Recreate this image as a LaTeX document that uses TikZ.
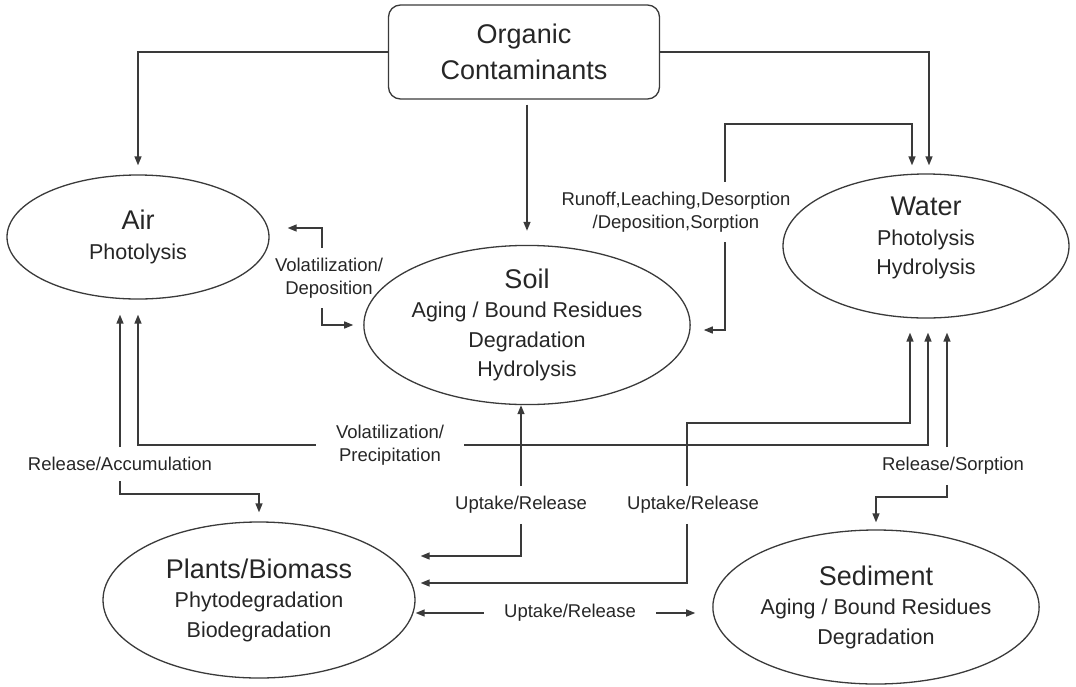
\documentclass[tikz,border=0pt]{standalone}
\usepackage{fontspec}
\setmainfont{Liberation Sans}
\usetikzlibrary{shapes,arrows.meta,positioning,calc}
\definecolor{linegray}{HTML}{3A3A3A}
\definecolor{textgray}{HTML}{262626}
\tikzset{
    compart/.style={
        ellipse,                  % each environmental compartment
        draw=linegray,
        line width=1.3pt,
        align=center,
        inner sep=0pt,
        text=textgray,
        font=\fontsize{21.5}{29.5}\selectfont
    },
    source/.style={
        rectangle,
        rounded corners=12pt,
        draw=linegray,
        line width=1.3pt,
        align=center,
        minimum width=271pt,
        minimum height=94pt,
        text=textgray,
        font=\fontsize{27}{36}\selectfont
    },
    flowlabel/.style={
        align=center,
        inner ysep=10pt,
        inner xsep=20pt,
        text=textgray,
        font=\fontsize{18.5}{22.5}\selectfont
    },
    flow/.style={
        draw=linegray,
        line width=1.4pt,
        -{Triangle[length=9pt,width=7pt]}
    }
}
\newcommand{\ctitle}[1]{{\fontsize{27}{31}\selectfont #1}}

\begin{document}
\begin{tikzpicture}[x=1pt,y=-1pt]
\useasboundingbox (0,0) rectangle (1076,686);
% compartments
\node[source] (organic) at (524,52) {Organic\\Contaminants};
\node[compart, minimum width=262pt, minimum height=124pt] (air) at (138,237) {\ctitle{Air}\\Photolysis};
\node[compart, minimum width=263pt, minimum height=156pt] (soil) at (527,325) {\ctitle{Soil}\\Aging / Bound Residues\\Degradation\\Hydrolysis};
\node[compart, minimum width=286pt, minimum height=144pt] (water) at (926,246) {\ctitle{Water}\\Photolysis\\Hydrolysis\\[-9.5pt]\mbox{}};
\node[compart, minimum width=312pt, minimum height=156pt] (plants) at (259,600) {\ctitle{Plants/Biomass}\\Phytodegradation\\Biodegradation};
\node[compart, minimum width=308pt, minimum height=154pt] (sediment) at (876,607) {\ctitle{Sediment}\\Aging / Bound Residues\\Degradation};

% process labels
\node[flowlabel] (voldep) at (329,278) {Volatilization/\\Deposition};
\node[flowlabel] (runoff) at (676,212) {Runoff,Leaching,Desorption\\/Deposition,Sorption};
\node[flowlabel] (volprec) at (390,445) {Volatilization/\\Precipitation};
\node[flowlabel] (relacc) at (120,464) {Release/Accumulation};
\node[flowlabel] (upsoil) at (521,505) {Uptake/Release};
\node[flowlabel] (upwater) at (693,505) {Uptake/Release};
\node[flowlabel] (relsorp) at (953,466) {Release/Sorption};
\node[flowlabel] (upsed) at (570,613) {Uptake/Release};

\coordinate (roff) at (725,124);
\coordinate (uwat) at (687,423);

% from the source
\draw[flow, shorten >=9pt] (organic.west) -| (air.north);
\draw[flow, shorten <=5pt, shorten >=14pt] (organic.south -| soil.north) -- (soil.north);
\draw[flow, shorten >=8pt] (organic.east) -| ([xshift=3pt]water.north);

% air <-> soil
\draw[flow, shorten >=18pt] ([xshift=-7pt]voldep.north) |- ([yshift=9pt]air.east);
\draw[flow, shorten >=10pt] ([xshift=-7pt]voldep.south) |- (soil.west);

% soil <-> water
\draw[flow, shorten >=8pt] (runoff.north -| roff) -- (roff) -| ([xshift=-14pt]water.north);
\draw[flow, shorten >=13pt] (runoff.south -| roff) |- ([yshift=-5pt]soil.east);

% air <-> plants, air <-> water
\draw[flow, shorten >=15pt] (relacc.north) -- (relacc.north |- air.south);
\draw[flow, shorten >=9pt] (relacc.south) -- ++(0,13) -| (plants.north);
\draw[flow, shorten >=15pt] (volprec.west) -| (air.south);
\draw[flow, shorten >=14pt] (volprec.east) -| ([xshift=2pt]water.south);

% plants
\draw[flow] (upsoil.north) -- (upsoil.north |- soil.south);
\draw[flow] (upsoil.south) |- ([xshift=5pt,yshift=44pt]plants.east);
\draw[flow, shorten >=14pt] ([xshift=-6pt]upwater.north) -- (uwat) -| ([xshift=-16pt]water.south);
\draw[flow] ([xshift=-6pt]upwater.south) |- ([xshift=5pt,yshift=17pt]plants.east);
\draw[flow] (upsed.west) -- (upsed.west -| plants.east);
\draw[flow, shorten >=17pt] (upsed.east) -- (upsed.east -| sediment.west);

% sediment
\draw[flow, shorten >=14pt] ([xshift=-6pt]relsorp.north) -- ([xshift=21pt]water.south);
\draw[flow, shorten >=7pt] ([xshift=-6pt]relsorp.south) -- ++(0,12) -| (sediment.north);
\end{tikzpicture}
\end{document}
